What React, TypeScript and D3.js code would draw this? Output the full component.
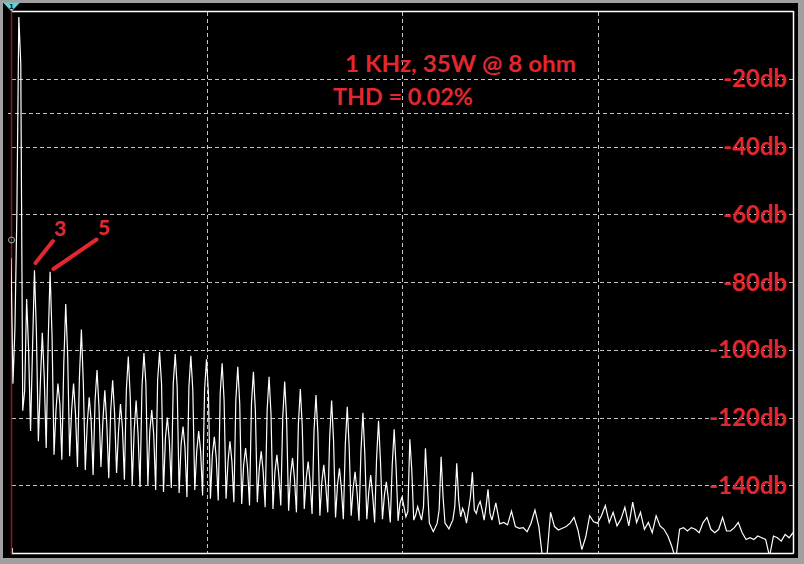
import React from 'react';
import * as d3 from 'd3';

// spectrum of a 1 kHz tone, frequency in kHz, level in dB
const dcDb = [-73, -110, -94]; // bins at 0, 0.25, 0.5 kHz

// harmonic n = 1..61 : peak bin and the bins either side (n-0.25, n+0.25)
const peakDb = [
  -1.8, -85, -76.5, -95, -77, -110, -86.5, -110, -94, -114,
  -106, -112, -109, -116, -102, -115, -101, -117.8, -100.7, -120,
  -101.3, -122.7, -101.8, -124, -102.8, -125.7, -104, -127, -105, -129,
  -106.5, -130, -108, -131, -109.4, -132, -111.6, -133, -113.4, -134,
  -115, -135, -116.8, -136, -118.6, -137, -121, -139, -123.5, -143.4,
  -126.4, -146.3, -129.1, -153.7, -131.6, -152.9, -133.5, -148.3, -136.2, -144.8,
  -141.2,
];
const leftDb = [
  -60, -112, -100, -110, -98, -118, -104, -118, -108, -122,
  -115, -121, -118, -124, -112, -124, -111, -124, -109, -126,
  -110, -128, -111, -130, -112, -131, -113, -133, -115, -134,
  -116, -135, -118, -136, -120, -137, -122, -138, -124, -139,
  -126, -140, -128, -141, -130, -142, -132, -143, -134, -145.3,
  -147.8, -148.8, -146.3, -152.5, -147.3, -152, -146.3, -146.8, -143.4, -146,
  -146.3,
];
const rightDb = [
  -15.6, -100, -95, -108, -96, -116, -102, -119, -110, -121,
  -117, -122, -119, -123, -114, -125, -110, -125, -110, -127,
  -111, -129, -112, -130, -113, -132, -115, -133, -116, -135,
  -118, -136, -119, -137, -121, -138, -123, -139, -125, -140,
  -127, -141, -129, -142, -131, -143, -133, -144, -135, -146.3,
  -135.5, -148.3, -140.4, -152.5, -143.4, -151.5, -144.4, -151.2, -147.3, -147.3,
  -148.3,
];
// floor between harmonic n and n+1 (n + 0.5 kHz)
const valleyDb = [
  -118, -124, -127, -129, -131, -132.5, -131.4, -134.6, -135.5, -137,
  -134.6, -137.9, -136.4, -138.4, -139.9, -140.5, -139.9, -141.4, -142, -140.8,
  -142.3, -143.5, -141.4, -143, -144, -144.5, -144, -145, -145.5, -146,
  -145, -146.5, -147, -146, -147.5, -148, -147, -148.5, -149, -148,
  -149.5, -150, -149, -150.5, -150, -151, -150, -151, -150.5, -149.3,
  -150.3, -150.3, -151.2, -151.2, -151.2, -150.3, -149.3, -147.3, -148.3, -150.3,
  -150.3,
];
// noise floor from 62 kHz to 100 kHz, every 0.5 kHz
const noiseDb = [
  -145.2, -151.4, -151, -151.7, -147.6, -152.2, -152.7, -152.5, -153.7, -151.2,
  -147.3, -152.2, -162, -162, -148, -152.2, -153.2, -152.7, -152.2, -151.2,
  -149.5, -153.2, -159, -155.2, -149, -150.8, -151.2, -149, -146, -151,
  -148, -152, -150, -146.5, -152, -145, -151, -148, -153, -151,
  -154, -149, -152, -153, -155, -158, -162, -153, -152.5, -153.5,
  -152.5, -153, -154, -151, -149.5, -153, -154, -153, -149.5, -153.5,
  -153.5, -152.5, -151, -154, -156, -155.5, -156, -155, -155.5, -156,
  -161, -155, -155.5, -156.5, -154.5, -155.5, -154,
];

const gridDb = [-20, -30, -40, -60, -80, -100, -120, -140];
const labelDb = [-20, -40, -60, -80, -100, -120, -140];
const gridKHz = [25, 50, 75];

const W = 804;
const H = 564;
const RED = '#e2282e';

type Pt = { f: number; db: number };

export default function App() {
  const x = d3.scaleLinear().domain([0, 100]).range([11, 793]);
  const y = d3.scaleLinear().domain([0, -160]).range([11, 553]);

  const pts: Pt[] = [];
  dcDb.forEach((db, i) => pts.push({ f: i * 0.25, db }));
  peakDb.forEach((db, i) => {
    const n = i + 1;
    pts.push({ f: n - 0.25, db: leftDb[i] });
    pts.push({ f: n, db });
    pts.push({ f: n + 0.25, db: rightDb[i] });
    pts.push({ f: n + 0.5, db: valleyDb[i] });
  });
  noiseDb.forEach((db, i) => pts.push({ f: 62 + i * 0.5, db }));

  const line = d3
    .line<Pt>()
    .x(d => x(d.f))
    .y(d => y(d.db));

  const font = 'Lato, "Open Sans", sans-serif';

  return (
    <svg
      width={W}
      height={H}
      style={{ position: 'absolute', left: 0, top: 0, display: 'block' }}
    >
      <rect x={0} y={0} width={W} height={H} fill="#a0a0a0" />
      <rect x={3} y={3} width={795} height={555} fill="#000" />

      <defs>
        <clipPath id="plot">
          <rect x={x(0)} y={y(0)} width={x(100) - x(0)} height={y(-160) - y(0)} />
        </clipPath>
      </defs>

      {/* grid */}
      {gridDb.map(d => (
        <line
          key={'h' + d}
          x1={d === -30 ? 8 : 12}
          x2={793}
          y1={Math.round(y(d)) + 0.5}
          y2={Math.round(y(d)) + 0.5}
          stroke="#c4c4c4"
          strokeWidth={1}
          strokeDasharray="4,3"
        />
      ))}
      {gridKHz.map(k => (
        <line
          key={'v' + k}
          x1={Math.round(x(k)) + 0.5}
          x2={Math.round(x(k)) + 0.5}
          y1={12}
          y2={553}
          stroke="#c4c4c4"
          strokeWidth={1}
          strokeDasharray="4,3"
        />
      ))}

      {/* frame */}
      <line x1={12} x2={793.5} y1={11.5} y2={11.5} stroke="#fff" strokeWidth={1.5} />
      <line x1={793.5} x2={793.5} y1={11} y2={553.5} stroke="#fff" strokeWidth={1.5} />
      <line x1={11} x2={793.5} y1={553.5} y2={553.5} stroke="#fff" strokeWidth={1.5} />
      <line x1={12.5} x2={12.5} y1={548} y2={553} stroke="#fff" strokeWidth={1} />
      <line x1={11.5} x2={11.5} y1={9} y2={554} stroke="#8a1c1c" strokeWidth={1.5} />

      {/* trace */}
      <path
        d={line(pts) || ''}
        fill="none"
        stroke="#fff"
        strokeWidth={1.2}
        strokeLinejoin="miter"
        clipPath="url(#plot)"
      />

      {/* markers */}
      <polygon points="3,2.5 20,2.5 11.5,11.5" fill="#5ed2d6" />
      <text x={11.5} y={9} fontSize={7} fontFamily="DejaVu Sans" fontWeight="bold" textAnchor="middle" fill="#123">
        1
      </text>
      <circle cx={11.5} cy={240} r={3} fill="none" stroke="#8fb4b4" strokeWidth={1} />

      {/* level labels */}
      {labelDb.map(d => (
        <text
          key={'l' + d}
          x={787}
          y={y(d) + 8.5}
          textAnchor="end"
          fill={RED}
          fontFamily={font}
          fontWeight="bold"
          fontSize={24}
        >
          {d}db
        </text>
      ))}

      {/* annotations */}
      <text x={345} y={72} textLength={231} lengthAdjust="spacingAndGlyphs" fill={RED} fontFamily={font} fontWeight="bold" fontSize={23}>
        1 KHz, 35W @ 8 ohm
      </text>
      <text x={333} y={105} textLength={140} lengthAdjust="spacingAndGlyphs" fill={RED} fontFamily={font} fontWeight="bold" fontSize={23}>
        THD = 0.02%
      </text>
      <text x={54} y={236} fill={RED} fontFamily={font} fontWeight="900" fontSize={21}>
        3
      </text>
      <text x={98} y={235} fill={RED} fontFamily={font} fontWeight="900" fontSize={21}>
        5
      </text>
      <line x1={35.5} y1={263} x2={53} y2={241} stroke={RED} strokeWidth={4} strokeLinecap="round" />
      <line x1={53.5} y1={269} x2={96.5} y2={239.5} stroke={RED} strokeWidth={4} strokeLinecap="round" />
    </svg>
  );
}
